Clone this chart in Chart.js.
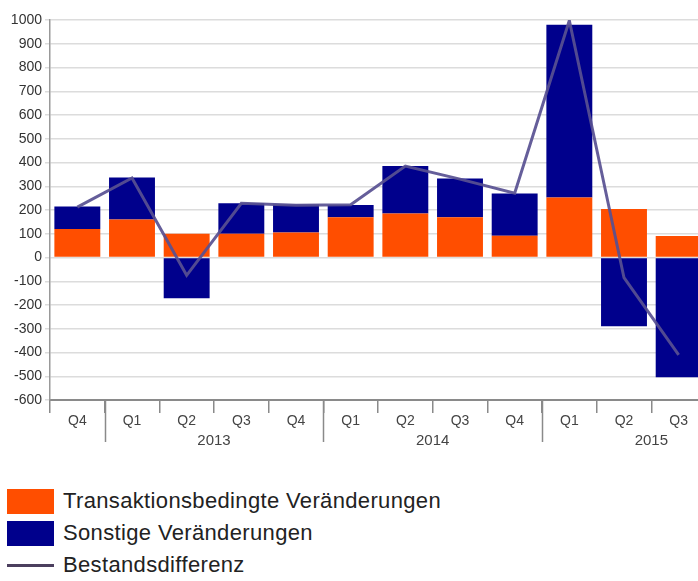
<!DOCTYPE html>
<html>
<head>
<meta charset="utf-8">
<script src="https://cdn.jsdelivr.net/npm/chart.js@4/dist/chart.umd.min.js"></script>
<style>
  html, body { margin: 0; padding: 0; background: #fff; overflow: hidden; width: 698px; height: 581px; }
  #wrap { position: absolute; left: 0; top: 0; }
  #legend { position: absolute; left: 7px; top: 485px; font-family: "Liberation Sans", Arial, sans-serif; font-size: 22px; letter-spacing: 0.35px; color: #222; }
  .row { display: flex; align-items: center; height: 32px; }
  .sw { width: 47px; height: 25px; margin-right: 9px; }
  .ln { width: 47px; height: 3px; margin-right: 9px; }
</style>
</head>
<body>
<div id="wrap"><canvas id="chart" width="706" height="460"></canvas></div>
<div id="legend"></div>
<script>
// quarters, Q4 2012 .. Q3 2015
const quarters = ["Q4", "Q1", "Q2", "Q3", "Q4", "Q1", "Q2", "Q3", "Q4", "Q1", "Q2", "Q3"];
const years = ["2013", "2014", "2015"];
const yearStart = [1, 5, 9]; // index of Q1 of each year

const transaktion = [120, 160, 100, 100, 105, 170, 185, 170, 92, 253, 204, 91];
const sonstige = [95, 177, -172, 128, 118, 51, 200, 163, 178, 727, -289, -504];
const bestand = [212, 335, -75, 228, 220, 222, 385, 330, 271, 998, -85, -410];

const ORANGE = "#ff4e00";
const BLUE = "#00008c";
const LINE = "rgba(88,80,145,0.92)";

// year labels and the long separators under the axis
const yearAxis = {
  id: "yearAxis",
  afterDraw(chart) {
    const x = chart.scales.x;
    const ctx = chart.ctx;
    const step = x.getPixelForValue(1) - x.getPixelForValue(0);
    const top = chart.chartArea.bottom;
    ctx.save();
    ctx.strokeStyle = "#8a8a8a";
    ctx.lineWidth = 1.5;
    ctx.fillStyle = "#444";
    ctx.font = "15px 'Liberation Sans', Arial, sans-serif";
    ctx.textAlign = "center";
    ctx.textBaseline = "middle";
    years.forEach((y, i) => {
      const left = x.getPixelForValue(yearStart[i]) - step / 2;
      ctx.beginPath();
      ctx.moveTo(Math.round(left) + 0.5, top);
      ctx.lineTo(Math.round(left) + 0.5, top + 42);
      ctx.stroke();
      ctx.fillText(y, left + 2 * step, top + 41);
    });
    ctx.restore();
  }
};

const chart = new Chart(document.getElementById("chart"), {
  type: "bar",
  data: {
    labels: quarters,
    datasets: [
      {
        label: "Transaktionsbedingte Veränderungen",
        data: transaktion,
        backgroundColor: ORANGE,
        stack: "bars",
        order: 2,
        barPercentage: 0.84,
        categoryPercentage: 1
      },
      {
        label: "Sonstige Veränderungen",
        data: sonstige,
        backgroundColor: BLUE,
        stack: "bars",
        order: 2,
        barPercentage: 0.84,
        categoryPercentage: 1
      },
      {
        type: "line",
        label: "Bestandsdifferenz",
        data: bestand,
        borderColor: LINE,
        borderWidth: 3,
        pointRadius: 0,
        tension: 0,
        stack: "line",
        order: 1
      }
    ]
  },
  options: {
    responsive: false,
    animation: false,
    layout: { padding: { top: 20, left: 0, right: 0, bottom: 0 } },
    plugins: { legend: { display: false }, tooltip: { enabled: false } },
    scales: {
      x: {
        stacked: true,
        afterFit: (s) => { s.height = 60; },
        grid: { drawOnChartArea: false, offset: true, tickLength: 13, color: "#8a8a8a", lineWidth: 1.5 },
        border: { color: "#8a8a8a", width: 2 },
        ticks: {
          color: "#444",
          padding: 0,
          font: { family: "'Liberation Sans', Arial, sans-serif", size: 14 }
        }
      },
      y: {
        stacked: true,
        min: -600,
        max: 1000,
        afterFit: (s) => { s.width = 50; },
        grid: { color: "#dcdcdc", lineWidth: 1.5, tickLength: 5 },
        border: { color: "#999", width: 1.5 },
        ticks: {
          stepSize: 100,
          color: "#333",
          padding: 3,
          callback: (v) => String(v),
          font: { family: "'Liberation Sans', Arial, sans-serif", size: 14 }
        }
      }
    }
  },
  plugins: [yearAxis]
});

// legend below the chart, one entry per row
const legend = document.getElementById("legend");
chart.data.datasets.forEach((ds) => {
  const row = document.createElement("div");
  row.className = "row";
  const mark = document.createElement("div");
  if (ds.type === "line") {
    mark.className = "ln";
    mark.style.background = "#4b3f5e";
  } else {
    mark.className = "sw";
    mark.style.background = ds.backgroundColor;
  }
  const txt = document.createElement("span");
  txt.textContent = ds.label;
  row.appendChild(mark);
  row.appendChild(txt);
  legend.appendChild(row);
});
</script>
</body>
</html>
